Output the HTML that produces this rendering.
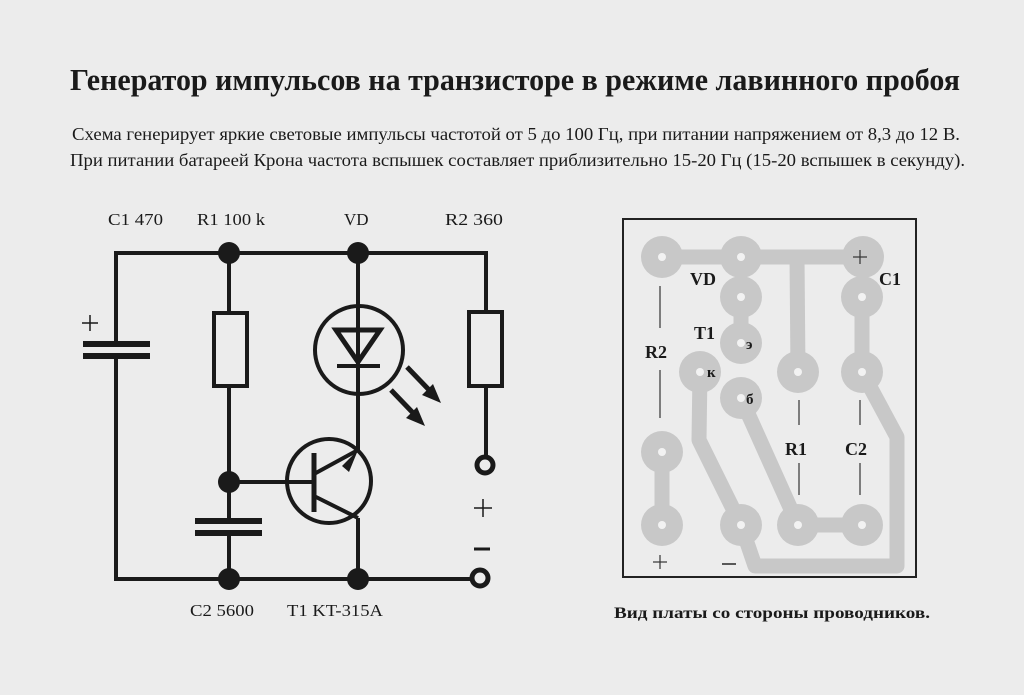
<!DOCTYPE html>
<html><head><meta charset="utf-8"><style>
html,body{margin:0;padding:0;background:#ececec;}
svg{display:block;}
text{font-family:"Liberation Serif",serif;fill:#1a1a1a;}
</style></head><body>
<svg width="1024" height="695" viewBox="0 0 1024 695" xmlns="http://www.w3.org/2000/svg">
<rect width="1024" height="695" fill="#ececec"/>
<text x="70" y="90" font-size="31" font-weight="bold" textLength="890" lengthAdjust="spacingAndGlyphs">Генератор импульсов на транзисторе в режиме лавинного пробоя</text>
<text x="72" y="140" font-size="18" textLength="888" lengthAdjust="spacingAndGlyphs">Схема генерирует яркие световые импульсы частотой от 5 до 100 Гц, при питании напряжением от 8,3 до 12 В.</text>
<text x="70" y="166" font-size="18" textLength="895" lengthAdjust="spacingAndGlyphs">При питании батареей Крона частота вспышек составляет приблизительно 15-20 Гц (15-20 вспышек в секунду).</text>

<g font-size="17">
<text x="108" y="225" textLength="55" lengthAdjust="spacingAndGlyphs">C1 470</text>
<text x="197" y="225" textLength="68" lengthAdjust="spacingAndGlyphs">R1 100 k</text>
<text x="344" y="225">VD</text>
<text x="445" y="225" textLength="58" lengthAdjust="spacingAndGlyphs">R2 360</text>
<text x="190" y="616" textLength="64" lengthAdjust="spacingAndGlyphs">C2 5600</text>
<text x="287" y="616" textLength="96" lengthAdjust="spacingAndGlyphs">T1 KT-315A</text>
</g>

<g stroke="#1a1a1a" stroke-width="4" fill="none">
<polyline points="116,344 116,253 486,253 486,312"/>
<polyline points="116,356 116,579 472,579"/>
<line x1="83" y1="344" x2="150" y2="344" stroke-width="6"/>
<line x1="83" y1="356" x2="150" y2="356" stroke-width="6"/>
<line x1="229" y1="253" x2="229" y2="313"/>
<rect x="214" y="313" width="33" height="73"/>
<line x1="229" y1="386" x2="229" y2="521"/>
<line x1="229" y1="533" x2="229" y2="579"/>
<line x1="195" y1="521" x2="262" y2="521" stroke-width="6"/>
<line x1="195" y1="533" x2="262" y2="533" stroke-width="6"/>
<line x1="229" y1="482" x2="314" y2="482"/>
<circle cx="359" cy="350" r="44"/>
<line x1="358" y1="253" x2="358" y2="450"/>
<line x1="337" y1="366" x2="380" y2="366"/>
<polygon points="336,330 380,330 358,362" stroke-width="5"/>
<circle cx="329" cy="481" r="42"/>
<line x1="314" y1="453" x2="314" y2="512" stroke-width="5"/>
<line x1="314" y1="474" x2="358" y2="450"/>
<line x1="314" y1="496" x2="358" y2="518"/>
<line x1="358" y1="518" x2="358" y2="579"/>
<rect x="469" y="312" width="33" height="74"/>
<line x1="486" y1="386" x2="486" y2="457"/>
<circle cx="485" cy="465" r="8" stroke-width="5"/>
<circle cx="480" cy="578" r="8" stroke-width="5"/>
<line x1="407" y1="367" x2="432" y2="393" stroke-width="5"/>
<line x1="391" y1="390" x2="416" y2="416" stroke-width="5"/>
</g>
<g fill="#1a1a1a">
<polygon points="342,466 358,450 349,472"/>
<polygon points="441,403 422,395 433,384"/>
<polygon points="425,426 406,418 417,407"/>
<circle cx="229" cy="253" r="11"/>
<circle cx="358" cy="253" r="11"/>
<circle cx="229" cy="482" r="11"/>
<circle cx="229" cy="579" r="11"/>
<circle cx="358" cy="579" r="11"/>
</g>
<g stroke="#1a1a1a" stroke-width="1.5">
<line x1="82" y1="323" x2="98" y2="323"/><line x1="90" y1="315" x2="90" y2="331"/>
<line x1="474" y1="508" x2="492" y2="508"/><line x1="483" y1="499" x2="483" y2="517"/>
<line x1="474" y1="549" x2="490" y2="549" stroke-width="3"/>
</g>

<rect x="623" y="219" width="293" height="358" fill="none" stroke="#222" stroke-width="2"/>
<g stroke="#c8c8c8" stroke-width="15" fill="none" stroke-linejoin="round">
<polyline points="662,257 863,257"/>
<polyline points="797,257 798,372"/>
<polyline points="741,297 741,343"/>
<polyline points="862,297 862,372"/>
<polyline points="862,372 897,437 897,566 755,566 741,525"/>
<polyline points="700,372 699,440 741,525"/>
<polyline points="741,398 798,525 862,525"/>
<polyline points="662,452 662,525"/>
</g>
<g fill="#c8c8c8">
<circle cx="662" cy="257" r="21"/><circle cx="741" cy="257" r="21"/><circle cx="863" cy="257" r="21"/>
<circle cx="741" cy="297" r="21"/><circle cx="741" cy="343" r="21"/><circle cx="700" cy="372" r="21"/>
<circle cx="741" cy="398" r="21"/><circle cx="798" cy="372" r="21"/><circle cx="862" cy="297" r="21"/>
<circle cx="862" cy="372" r="21"/><circle cx="662" cy="452" r="21"/><circle cx="662" cy="525" r="21"/>
<circle cx="741" cy="525" r="21"/><circle cx="798" cy="525" r="21"/><circle cx="862" cy="525" r="21"/>
</g>
<g fill="#f2f2f2">
<circle cx="662" cy="257" r="4"/><circle cx="741" cy="257" r="4"/>
<circle cx="741" cy="297" r="4"/><circle cx="741" cy="343" r="4"/><circle cx="700" cy="372" r="4"/>
<circle cx="741" cy="398" r="4"/><circle cx="798" cy="372" r="4"/><circle cx="862" cy="297" r="4"/>
<circle cx="862" cy="372" r="4"/><circle cx="662" cy="452" r="4"/><circle cx="662" cy="525" r="4"/>
<circle cx="741" cy="525" r="4"/><circle cx="798" cy="525" r="4"/><circle cx="862" cy="525" r="4"/>
</g>
<g stroke="#333" stroke-width="1.2">
<line x1="660" y1="286" x2="660" y2="328"/><line x1="660" y1="370" x2="660" y2="418"/>
<line x1="799" y1="400" x2="799" y2="425"/><line x1="799" y1="463" x2="799" y2="495"/>
<line x1="860" y1="400" x2="860" y2="425"/><line x1="860" y1="463" x2="860" y2="495"/>
<line x1="853" y1="257" x2="867" y2="257"/><line x1="860" y1="250" x2="860" y2="264"/>
<line x1="653" y1="562" x2="667" y2="562"/><line x1="660" y1="555" x2="660" y2="569"/>
<line x1="722" y1="564" x2="736" y2="564" stroke-width="1.6"/>
</g>
<g font-size="18" font-weight="bold">
<text x="690" y="285">VD</text>
<text x="879" y="285">C1</text>
<text x="694" y="339">T1</text>
<text x="645" y="358">R2</text>
<text x="785" y="455">R1</text>
<text x="845" y="455">C2</text>
</g>
<g font-size="15" font-weight="bold">
<text x="746" y="349">э</text>
<text x="707" y="377">к</text>
<text x="746" y="404">б</text>
</g>
<text x="614" y="618" font-size="16" font-weight="bold" textLength="316" lengthAdjust="spacingAndGlyphs">Вид платы со стороны проводников.</text>
</svg>
</body></html>
